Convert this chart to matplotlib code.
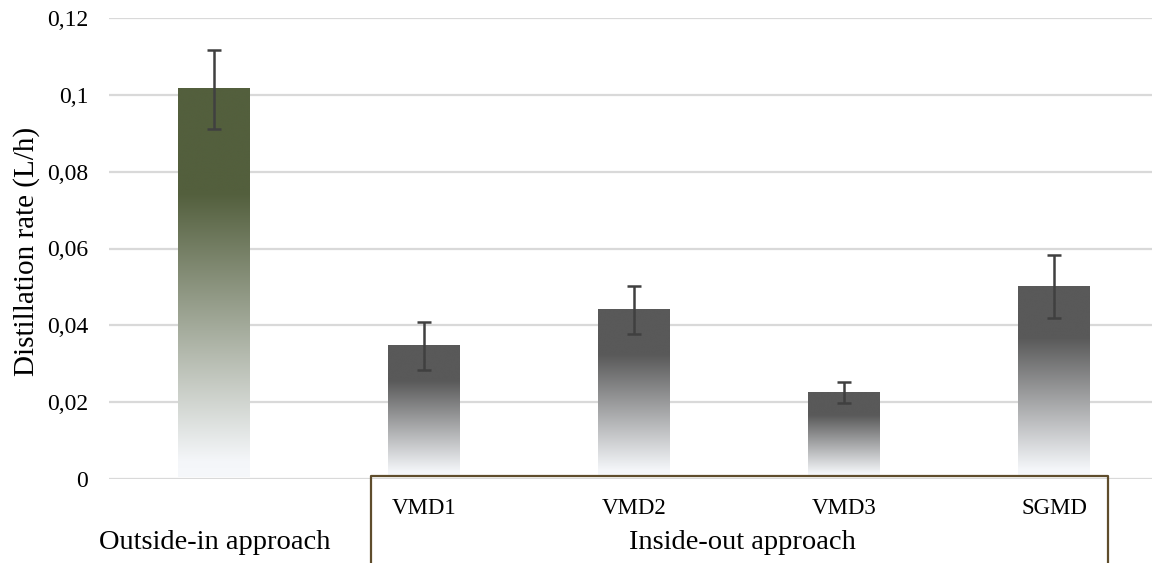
import numpy as np
import matplotlib
matplotlib.use("Agg")
import matplotlib.pyplot as plt
from matplotlib.colors import LinearSegmentedColormap

plt.rcParams['font.family'] = ['Liberation Serif', 'DejaVu Serif']

categories = ["", "VMD1", "VMD2", "VMD3", "SGMD"]
groups = ["Outside-in approach", "Inside-out approach"]
values = [0.1015, 0.0346, 0.0440, 0.0225, 0.0501]
errors = [0.0103, 0.0063, 0.0062, 0.0027, 0.0082]
ytick_vals = [0, 0.02, 0.04, 0.06, 0.08, 0.1, 0.12]
ytick_labels = ["0", "0,02", "0,04", "0,06", "0,08", "0,1", "0,12"]
bar_colors = ["#535f3d", "#595959", "#595959", "#595959", "#595959"]

W, H = 1152, 563
fig = plt.figure(figsize=(W / 100, H / 100), dpi=100)
ax = fig.add_axes([109 / W, 1 - 479 / H, (1152 - 109) / W, (479 - 18) / H])

x = np.arange(len(values))
bw = 0.34
bars = ax.bar(x, values, width=bw, color="none", zorder=2)

# gradient fills
for b, col in zip(bars, bar_colors):
    cmap = LinearSegmentedColormap.from_list(
        "g", [(0.0, col), (0.27, col), (0.96, "#f4f6f9"), (1.0, "#f6f8fb")])
    grad = np.linspace(0, 1, 256).reshape(-1, 1)
    x0, y0 = b.get_x(), b.get_y()
    ax.imshow(grad, cmap=cmap, aspect="auto", origin="upper",
              extent=[x0, x0 + b.get_width(), y0 + 0.0005, y0 + b.get_height()],
              zorder=2, interpolation="bicubic")

ax.errorbar(x, values, yerr=errors, fmt="none", ecolor="#404040",
            elinewidth=1.8, capsize=4.7, capthick=1.8, zorder=3)

ax.set_xlim(-0.5, (1152 - 214) / 210)
ax.set_ylim(0, 0.12)
ax.set_yticks(ytick_vals)
ax.set_yticklabels(ytick_labels, fontsize=17)
ax.tick_params(axis="y", length=0, pad=15)
ax.set_xticks([])
for s in ax.spines.values():
    s.set_visible(False)
ax.grid(axis="y", color="#d9d9d9", linewidth=1.6, zorder=0)
ax.set_axisbelow(True)
fig.text(26.5 / W, 1 - 251 / H, "Distillation rate (L/h)", rotation=90,
         ha="center", va="center", fontsize=21)

# category labels
px = 1 / 3841.7
for i, c in enumerate(categories):
    if c:
        ax.text(x[i], -35 * px, c, ha="center", va="baseline", fontsize=16.5,
                clip_on=False)
ax.text((215 - 214) / 210, -70.5 * px, groups[0], ha="center", va="baseline",
        fontsize=20.5, clip_on=False)
ax.text((742 - 214) / 210, -70.5 * px, groups[1], ha="center", va="baseline",
        fontsize=20.5, clip_on=False)

# bracket box for inside-out group
bx0 = (371 - 214) / 210
bx1 = (1108 - 214) / 210
ytop = 3 * px
ybot = -0.03
ax.plot([bx0, bx0, bx1, bx1], [ybot, ytop, ytop, ybot], color="#5f4d2c",
        linewidth=1.6, clip_on=False, zorder=4)

fig.savefig("out.png", dpi=100)
